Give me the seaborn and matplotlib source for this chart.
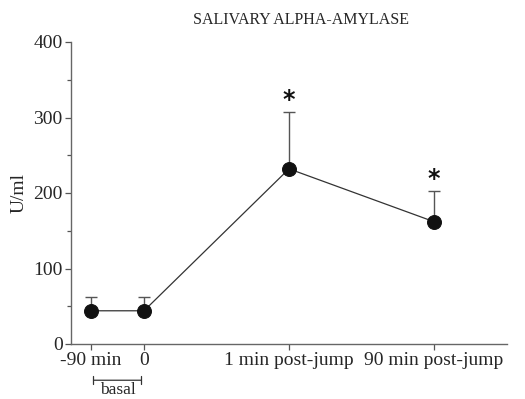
import matplotlib
matplotlib.use("Agg")
import matplotlib.pyplot as plt
import seaborn as sns
import pandas as pd

# Data
categories = ["-90 min", "0", "1 min post-jump", "90 min post-jump"]
means = [44, 44, 232, 162]
sem_upper = [18, 18, 75, 41]
significant = [False, False, True, True]
title = "SALIVARY ALPHA-AMYLASE"
ylabel = "U/ml"
y_ticks = [0, 100, 200, 300, 400]

# Layout (x positions of the time points, non-uniform spacing)
xpos = [0.0, 1.0, 3.72, 6.44]

sns.set_theme(style="ticks")
plt.rcParams["font.family"] = ["Liberation Serif", "DejaVu Serif"]

df = pd.DataFrame({"x": xpos, "y": means, "cat": categories})

fig = plt.figure(figsize=(5.25, 3.99), dpi=100)
ax = fig.add_axes([71/525, 1-344/399, (507-71)/525, (344-42)/399])

line_col = "#333333"
ax.errorbar(xpos, means, yerr=[[0]*len(means), sem_upper], fmt="none",
            ecolor="#555555", elinewidth=1.0, capsize=4, capthick=1.0, zorder=1)
sns.lineplot(data=df, x="x", y="y", ax=ax, color=line_col, linewidth=0.9,
             marker="o", markersize=10, markerfacecolor="#111111",
             markeredgecolor="#111111", zorder=3, sort=False)

for x, m, e, s in zip(xpos, means, sem_upper, significant):
    if s:
        ax.annotate("*", (x, m + e), xytext=(0, 0), textcoords="offset points",
                    ha="center", va="bottom", fontsize=17, fontweight="bold",
                    family="DejaVu Sans", color="#111111")

ax.set_xlim(-0.37, 7.81)
ax.set_ylim(0, 400)
ax.set_xticks(xpos)
ax.set_xticklabels(categories, fontsize=14)
ax.set_yticks(y_ticks)
ax.set_yticklabels([str(t) for t in y_ticks], fontsize=14)
ax.set_yticks([50, 150, 250, 350], minor=True)
ax.tick_params(axis="both", which="both", direction="out", length=4, width=0.9,
               color="#555555", pad=2)
ax.tick_params(axis="y", which="minor", length=3)
ax.set_xlabel("")
ax.set_ylabel(ylabel, fontsize=14, labelpad=4)
for sp in ["top", "right"]:
    ax.spines[sp].set_visible(False)
for sp in ["left", "bottom"]:
    ax.spines[sp].set_color("#666666")
    ax.spines[sp].set_linewidth(1.0)

fig.text(301/525, 1-20/399, title, ha="center", va="center", fontsize=11.5)

# basal bracket under the first two time points
ax.annotate("", xy=(xpos[0], -0.12), xycoords=("data", "axes fraction"),
            xytext=(xpos[1], -0.12), textcoords=("data", "axes fraction"),
            arrowprops=dict(arrowstyle="|-|,widthA=0.25,widthB=0.25",
                            color="#333333", lw=0.9), annotation_clip=False)
fig.text(118/525, 1-394/399, "basal", ha="center", va="baseline", fontsize=12.5)

fig.savefig("out.png", dpi=100)
